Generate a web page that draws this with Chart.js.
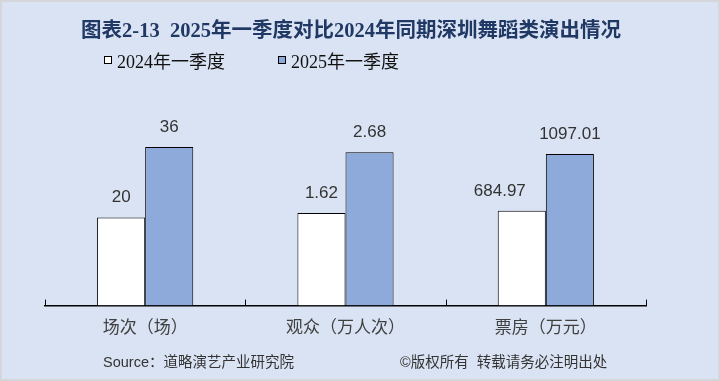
<!DOCTYPE html>
<html>
<head>
<meta charset="utf-8">
<script src="https://cdn.jsdelivr.net/npm/chart.js@4/dist/chart.umd.min.js"></script>
<style>
  html, body { margin: 0; padding: 0; }
  #wrap { position: relative; width: 720px; height: 381px; background: #dae3f3; overflow: hidden; }
  #frame { position: absolute; left: 0; top: 0; width: 720px; height: 381px; box-sizing: border-box; border: 2px solid #d4d6da; pointer-events: none; z-index: 5; }
  canvas { position: absolute; left: 0; top: 0; }
  .txt { position: absolute; white-space: pre; line-height: 1; }
  #title { top: 13px; left: 351px; transform: translateX(-50%); font: bold 20.5px "Liberation Serif", "Noto Sans CJK SC", serif; color: #203864; }
  .leg { position: absolute; top: 51px; height: 18px; display: flex; align-items: center; font: 18px "Liberation Serif", "Noto Sans CJK SC", serif; color: #111; white-space: pre; }
  .leg i { display: inline-block; width: 6px; height: 6px; border: 1px solid #000; margin-right: 5px; }
  .foot { top: 350px; font: 14.5px "Liberation Sans", "Noto Sans CJK SC", sans-serif; color: #333; }
</style>
</head>
<body>
<div id="wrap">
  <canvas id="c" width="720" height="381"></canvas>
  <div id="title" class="txt">图表2-13  2025年一季度对比2024年同期深圳舞蹈类演出情况</div>
  <div id="legend"></div>
  <div class="txt foot" style="left:103px">Source：道略演艺产业研究院</div>
  <div class="txt foot" style="left:400px">©版权所有  转载请务必注明出处</div>
  <div id="frame"></div>
</div>
<script>
// ---- data ----
const categories = ['场次（场）', '观众（万人次）', '票房（万元）'];
const seriesNames = ['2024年一季度', '2025年一季度'];
const values2024 = [20, 1.62, 684.97];
const values2025 = [36, 2.68, 1097.01];
// each category is drawn on its own (hidden) value scale
const axisMax = [48.9, 3.77, 1559];

// ---- style ----
const seriesColors = ['#ffffff', '#8eaadb'];
const seriesValues = [values2024, values2025];

// legend (HTML)
const legendPos = [104, 278];
const legendEl = document.getElementById('legend');
seriesNames.forEach((n, s) => {
  const d = document.createElement('div');
  d.className = 'leg';
  d.style.left = legendPos[s] + 'px';
  const box = document.createElement('i');
  box.style.background = seriesColors[s];
  d.appendChild(box);
  d.appendChild(document.createTextNode(n));
  legendEl.appendChild(d);
});

// datasets: one per (category, series), each on its category's scale
const datasets = [];
categories.forEach((cat, c) => {
  seriesValues.forEach((vals, s) => {
    datasets.push({
      label: seriesNames[s],
      data: categories.map((_, j) => (j === c ? vals[c] : null)),
      yAxisID: 'y' + c,
      backgroundColor: seriesColors[s],
      borderColor: '#000000',
      borderWidth: 1,
      skipNull: true,
      labelDx: (c === 2 && s === 0) ? -22 : 0
    });
  });
});

const yScales = {};
axisMax.forEach((m, i) => {
  yScales['y' + i] = { display: false, min: 0, max: m };
});

const valueLabels = {
  id: 'valueLabels',
  afterDatasetsDraw(chart) {
    const ctx = chart.ctx;
    ctx.save();
    ctx.font = '17px "Liberation Sans", Arial, sans-serif';
    ctx.fillStyle = '#333333';
    ctx.textAlign = 'center';
    ctx.textBaseline = 'middle';
    chart.data.datasets.forEach((ds, i) => {
      const meta = chart.getDatasetMeta(i);
      meta.data.forEach((el, j) => {
        const v = ds.data[j];
        if (v === null || v === undefined) return;
        ctx.fillText(String(v), el.x + (ds.labelDx || 0), el.y - 20);
      });
    });
    ctx.restore();
  }
};

const innerTicks = {
  id: 'innerTicks',
  afterDraw(chart) {
    const x = chart.scales.x;
    const ctx = chart.ctx;
    const b = chart.chartArea.bottom;
    ctx.save();
    ctx.strokeStyle = '#000';
    ctx.lineWidth = 1;
    for (let i = 0; i <= categories.length; i++) {
      const px = Math.round(x.getPixelForValue(i - 0.5)) + 0.5;
      ctx.beginPath();
      ctx.moveTo(px, b - 6);
      ctx.lineTo(px, b);
      ctx.stroke();
    }
    ctx.restore();
  }
};

new Chart(document.getElementById('c'), {
  type: 'bar',
  data: { labels: categories, datasets },
  options: {
    responsive: false,
    animation: false,
    devicePixelRatio: 1,
    layout: { padding: { top: 90, left: 45, right: 74, bottom: 33 } },
    datasets: { bar: { barPercentage: 1, categoryPercentage: 0.48 } },
    plugins: { legend: { display: false }, title: { display: false }, tooltip: { enabled: false } },
    scales: Object.assign({
      x: {
        offset: true,
        grid: { display: false, drawTicks: false },
        border: { display: true, color: '#000', width: 1.5 },
        ticks: { color: '#404040', padding: 11, font: { family: '"Noto Sans CJK SC", sans-serif', size: 17, lineHeight: 1.2 } }
      }
    }, yScales)
  },
  plugins: [valueLabels, innerTicks]
});
</script>
</body>
</html>
